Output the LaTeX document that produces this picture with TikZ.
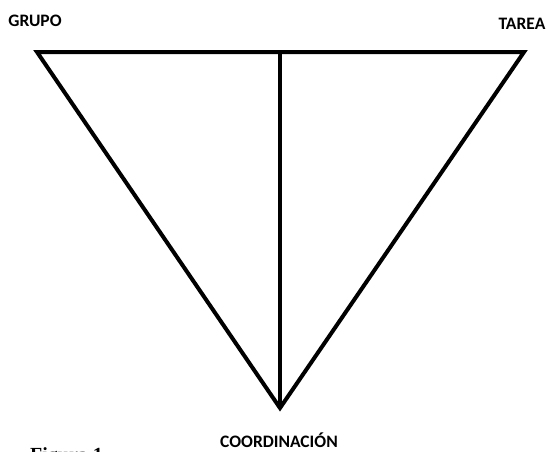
\documentclass[tikz,border=0pt]{standalone}
\usepackage{fontspec}
\setmainfont{Carlito}
\newfontfamily\serifbold{Liberation Serif}
\begin{document}
\begin{tikzpicture}[x=1pt,y=-1pt,
  edge/.style={line width=4pt,line join=miter},
  lbl/.style={font=\bfseries\fontsize{17.5}{20}\selectfont,inner sep=0pt,anchor=base}]
\useasboundingbox (0,0) rectangle (548,451);
\clip (0,0) rectangle (548,451);
\coordinate (tl) at (37,52);
\coordinate (tr) at (524,52);
\coordinate (bt) at (280,408);
\coordinate (tm) at (280,52);
\draw[edge] (tl) -- (tr) -- (bt) -- cycle;
\draw[edge] (tm) -- (bt);
\node[lbl] (grupo) at (35,26) {GRUPO};
\node[lbl] (tarea) at (522,29.5) {TAREA};
\node[lbl] (coord) at (279,447) {COORDINACIÓN};
\node[font=\serifbold\bfseries\fontsize{20}{22}\selectfont,inner sep=0pt,anchor=north west] (fig) at (30,447) {Figura 1};
\end{tikzpicture}
\end{document}
